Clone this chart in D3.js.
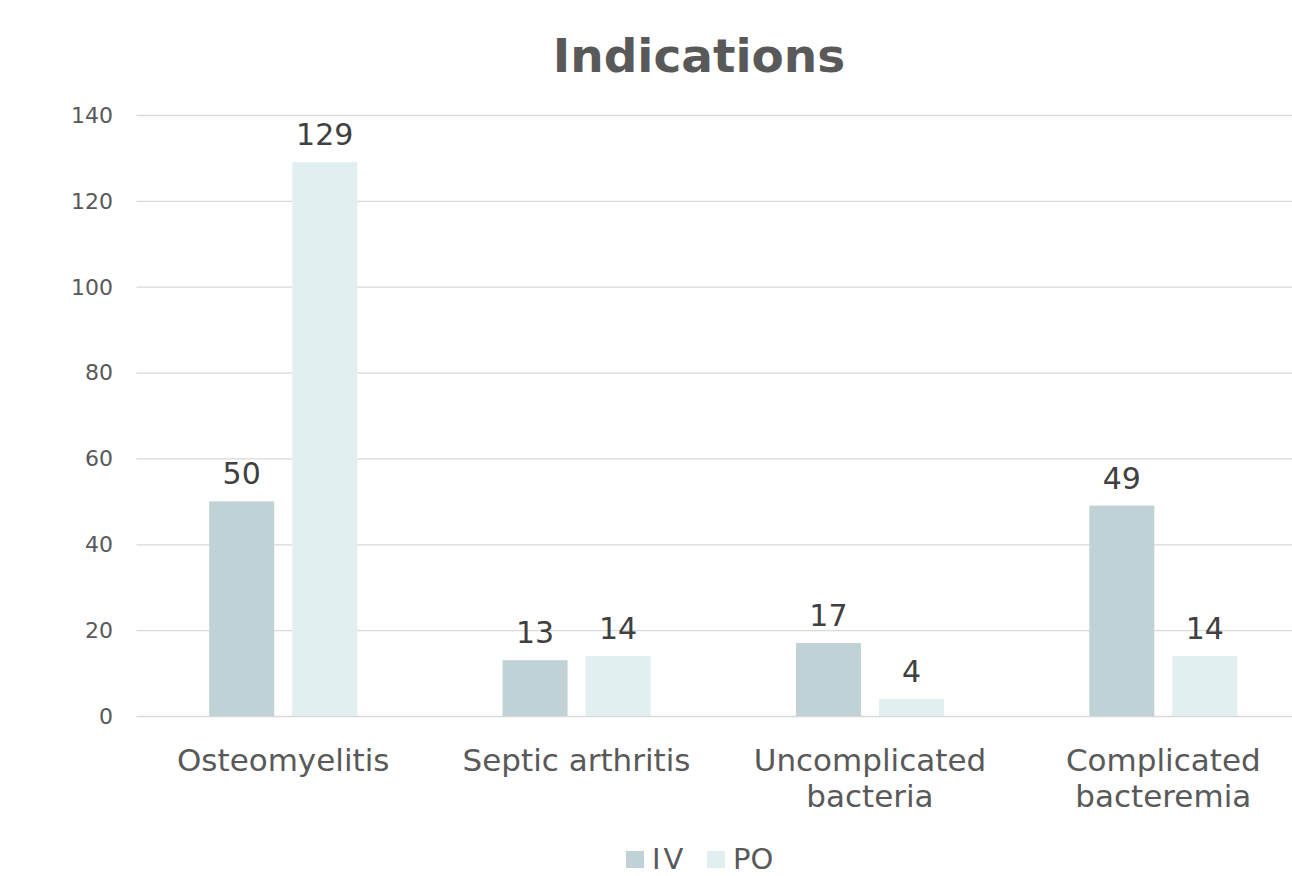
<!DOCTYPE html>
<html>
<head>
<meta charset="utf-8">
<script src="https://cdn.jsdelivr.net/npm/d3@7"></script>
<style>
  html, body { margin: 0; padding: 0; background: #fff; }
  svg { display: block; }
  text { font-family: "DejaVu Sans", Verdana, sans-serif; }
</style>
</head>
<body>
<div id="chart"></div>
<script>
// ---- data ----
var categories = [["Osteomyelitis"], ["Septic arthritis"], ["Uncomplicated", "bacteria"], ["Complicated", "bacteremia"]];
var series = ["IV", "PO"];
var ivValues = [50, 13, 17, 49];
var poValues = [129, 14, 4, 14];
var yTicks = [0, 20, 40, 60, 80, 100, 120, 140];

(function () {
  var W = 1292, H = 876;
  var colors = { IV: "#c0d2d5", PO: "#e2eff0" };
  var svg = d3.select("#chart").append("svg").attr("width", W).attr("height", H);

  var left = 136.5, right = 1310, top = 115, bottom = 716;
  var keys = categories.map(function (d, i) { return i; });
  var x = d3.scaleBand().domain(keys).range([left, right]);
  var y = d3.scaleLinear().domain([0, 140]).range([bottom, top]);
  var barW = 65, gap = 18;

  // title
  svg.append("text").attr("x", 699).attr("y", 72).attr("text-anchor", "middle")
    .attr("font-size", 47).attr("font-weight", 700).attr("fill", "#595959").text("Indications");

  // gridlines
  svg.append("g").selectAll("line").data(yTicks).enter().append("line")
    .attr("x1", left).attr("x2", W).attr("y1", function (d) { return y(d) + 0.5; }).attr("y2", function (d) { return y(d) + 0.5; })
    .attr("stroke", "#d9d9d9").attr("stroke-width", 1.3);

  // y tick labels
  svg.append("g").selectAll("text").data(yTicks).enter().append("text")
    .attr("x", 113).attr("y", function (d) { return y(d); }).attr("dy", "0.36em")
    .attr("text-anchor", "end").attr("font-size", 22).attr("fill", "#595959")
    .text(function (d) { return d; });

  // bars
  var rows = keys.map(function (i) { return { i: i, IV: ivValues[i], PO: poValues[i] }; });
  var grp = svg.append("g").selectAll("g").data(rows).enter().append("g");
  series.forEach(function (s, si) {
    function bx(d) { return x(d.i) + x.bandwidth() / 2 + (si === 0 ? -gap / 2 - barW : gap / 2); }
    grp.append("rect")
      .attr("x", bx).attr("width", barW)
      .attr("y", function (d) { return y(d[s]); })
      .attr("height", function (d) { return y(0) - y(d[s]); })
      .attr("fill", colors[s]);
    grp.append("text")
      .attr("x", function (d) { return bx(d) + barW / 2; })
      .attr("y", function (d) { return y(d[s]) - 17; })
      .attr("text-anchor", "middle").attr("font-size", 30).attr("fill", "#404040")
      .text(function (d) { return d[s]; });
  });

  // category labels
  var cat = svg.append("g").selectAll("text").data(keys).enter().append("text")
    .attr("x", function (i) { return x(i) + x.bandwidth() / 2; })
    .attr("y", 771).attr("text-anchor", "middle").attr("font-size", 31).attr("fill", "#595959");
  cat.selectAll("tspan").data(function (i) { return categories[i]; }).enter().append("tspan")
    .attr("x", function () { return d3.select(this.parentNode).attr("x"); })
    .attr("dy", function (d, j) { return j === 0 ? 0 : 36; })
    .text(function (d) { return d; });

  // legend
  var lg = svg.append("g");
  var lx = [626, 707];
  series.forEach(function (s, si) {
    lg.append("rect").attr("x", lx[si]).attr("y", 851).attr("width", 18).attr("height", 17).attr("fill", colors[s]);
    lg.append("text").attr("x", lx[si] + 26).attr("y", 869).attr("font-size", 29).attr("fill", "#595959")
      .attr("letter-spacing", si === 0 ? 3 : 0).text(s);
  });
})();
</script>
</body>
</html>
